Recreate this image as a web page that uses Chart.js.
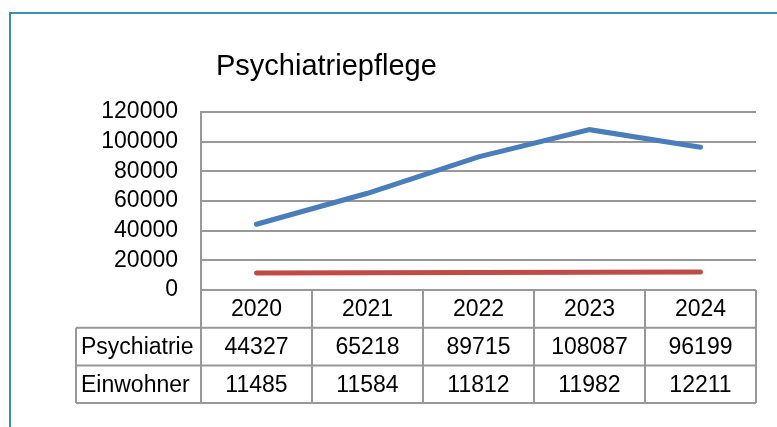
<!DOCTYPE html>
<html>
<head>
<meta charset="utf-8">
<script src="https://cdn.jsdelivr.net/npm/chart.js@4/dist/chart.umd.min.js"></script>
<style>
  html, body { margin: 0; padding: 0; background: #fff; }
  #wrap { position: relative; width: 777px; height: 427px; overflow: hidden; }
  #frame { position: absolute; left: 9px; top: 12px; width: 900px; height: 600px;
           border-top: 2px solid #3c8fa7; border-left: 2px solid #3c8fa7; }
  canvas { position: absolute; left: 0; top: 0; }
</style>
</head>
<body>
<div id="wrap">
  <div id="frame"></div>
  <canvas id="chart" width="777" height="427"></canvas>
</div>
<script>
var chartTitle = 'Psychiatriepflege';
var years = ['2020', '2021', '2022', '2023', '2024'];
var psychiatrie = [44327, 65218, 89715, 108087, 96199];
var einwohner = [11485, 11584, 11812, 11982, 12211];
var seriesNames = ['Psychiatrie', 'Einwohner'];
var seriesColors = ['#4a7ebb', '#be4b48'];

var gridColor = '#989898';
var font = '"Liberation Sans", Arial, sans-serif';

// title sits left of centre, so draw it ourselves
var titleText = {
  id: 'titleText',
  afterDraw: function (chart) {
    var ctx = chart.ctx;
    ctx.save();
    ctx.fillStyle = '#000';
    ctx.font = '29px ' + font;
    ctx.textAlign = 'left';
    ctx.textBaseline = 'alphabetic';
    ctx.fillText(chartTitle, 216, 75);
    ctx.restore();
  }
};

// data table under the plot, columns follow the x scale
var dataTable = {
  id: 'dataTable',
  afterDraw: function (chart) {
    var ctx = chart.ctx;
    var area = chart.chartArea;
    var x = chart.scales.x;
    var colW = (area.right - area.left) / years.length;
    var rowH = 37.7;
    var top = area.bottom;
    var labelLeft = 76;
    var rows = [psychiatrie, einwohner];

    ctx.save();
    ctx.strokeStyle = gridColor;
    ctx.lineWidth = 2;
    ctx.beginPath();
    // horizontal lines
    ctx.moveTo(area.left, top); ctx.lineTo(area.right, top);
    for (var r = 1; r <= rows.length + 1; r++) {
      ctx.moveTo(labelLeft, top + rowH * r);
      ctx.lineTo(area.right, top + rowH * r);
    }
    // vertical lines
    ctx.moveTo(labelLeft, top + rowH); ctx.lineTo(labelLeft, top + rowH * 3);
    for (var i = 0; i <= years.length; i++) {
      var bx = x.getPixelForValue(0) - colW / 2 + i * colW;
      ctx.moveTo(bx, top); ctx.lineTo(bx, top + rowH * 3);
    }
    ctx.stroke();

    ctx.fillStyle = '#000';
    ctx.font = '23px ' + font;
    ctx.textBaseline = 'middle';
    ctx.textAlign = 'center';
    years.forEach(function (y, i) {
      ctx.fillText(y, x.getPixelForValue(i), top + rowH * 0.5 + 1);
    });
    rows.forEach(function (vals, r) {
      vals.forEach(function (v, i) {
        ctx.fillText(String(v), x.getPixelForValue(i), top + rowH * (r + 1.5) + 1);
      });
    });
    ctx.textAlign = 'left';
    seriesNames.forEach(function (n, r) {
      ctx.fillText(n, labelLeft + 5, top + rowH * (r + 1.5) + 1);
    });
    ctx.restore();
  }
};

new Chart(document.getElementById('chart'), {
  type: 'line',
  data: {
    labels: years,
    datasets: [{
      label: seriesNames[0],
      data: psychiatrie,
      borderColor: seriesColors[0],
      backgroundColor: seriesColors[0],
      borderWidth: 5,
      borderCapStyle: 'round',
      pointRadius: 0,
      tension: 0,
      clip: false
    }, {
      label: seriesNames[1],
      data: einwohner,
      borderColor: seriesColors[1],
      backgroundColor: seriesColors[1],
      borderWidth: 5,
      borderCapStyle: 'round',
      pointRadius: 0,
      tension: 0,
      clip: false
    }]
  },
  options: {
    responsive: false,
    animation: false,
    events: [],
    layout: { padding: { top: 112, right: 21, bottom: 137, left: 0 } },
    plugins: {
      legend: { display: false },
      title: { display: false },
      tooltip: { enabled: false }
    },
    scales: {
      x: {
        offset: true,
        grid: { display: false, drawTicks: false },
        border: { display: false },
        ticks: { display: false },
        afterFit: function (s) { s.height = 0; }
      },
      y: {
        min: 0,
        max: 120000,
        ticks: {
          stepSize: 20000, color: '#000', padding: 23, autoSkip: false,
          font: { family: font, size: 23 },
          callback: function (v) { return String(v); }
        },
        grid: { color: gridColor, lineWidth: 2, drawTicks: false },
        border: { color: gridColor, width: 2 },
        afterFit: function (s) { s.width = 201; }
      }
    }
  },
  plugins: [dataTable, titleText]
});
</script>
</body>
</html>
